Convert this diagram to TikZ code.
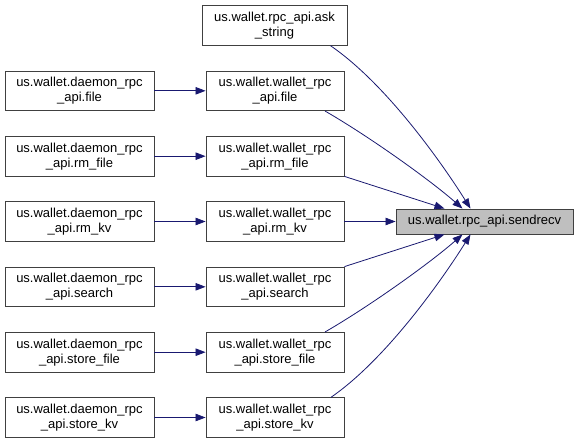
\documentclass[tikz,border=0pt]{standalone}
\usepackage{fontspec}
\setmainfont{Liberation Sans}
\usetikzlibrary{arrows.meta}
\definecolor{edgeblue}{RGB}{25,25,112}
\definecolor{boxline}{RGB}{64,64,64}
\definecolor{boxfill}{RGB}{191,191,191}
\begin{document}
\begin{tikzpicture}[x=1pt,y=-1pt,
  box/.style={draw=boxline,line width=0.9pt,fill=white,inner sep=0pt,minimum height=39.5pt,align=center,font=\fontsize{13}{15}\selectfont},
  lbox/.style={box,minimum width=149pt},
  mbox/.style={box,minimum width=138pt},
  edge/.style={draw=edgeblue,line width=0.8pt,-{Triangle[length=10pt,width=7.5pt]}}]
\useasboundingbox (0,0) rectangle (579,444);
% middle column
\node[box,minimum width=145pt] (ask) at (274.5,25.5) {us.wallet.rpc\_api.ask\\\_string};
\node[mbox] (mfile) at (275,90.8) {us.wallet.wallet\_rpc\\\_api.file};
\node[mbox] (mrmfile) at (275,156.2) {us.wallet.wallet\_rpc\\\_api.rm\_file};
\node[mbox] (mrmkv) at (275,221.5) {us.wallet.wallet\_rpc\\\_api.rm\_kv};
\node[mbox] (msearch) at (275,286.8) {us.wallet.wallet\_rpc\\\_api.search};
\node[mbox] (mstorefile) at (275,352.2) {us.wallet.wallet\_rpc\\\_api.store\_file};
\node[mbox] (mstorekv) at (275,417.5) {us.wallet.wallet\_rpc\\\_api.store\_kv};
% left column
\node[lbox] (dfile) at (79.5,90.8) {us.wallet.daemon\_rpc\\\_api.file};
\node[lbox] (drmfile) at (79.5,156.2) {us.wallet.daemon\_rpc\\\_api.rm\_file};
\node[lbox] (drmkv) at (79.5,221.5) {us.wallet.daemon\_rpc\\\_api.rm\_kv};
\node[lbox] (dsearch) at (79.5,286.8) {us.wallet.daemon\_rpc\\\_api.search};
\node[lbox] (dstorefile) at (79.5,352.2) {us.wallet.daemon\_rpc\\\_api.store\_file};
\node[lbox] (dstorekv) at (79.5,417.5) {us.wallet.daemon\_rpc\\\_api.store\_kv};
% target
\node[box,fill=boxfill,minimum width=177pt,minimum height=25pt] (sr) at (484.5,221.5) {us.wallet.rpc\_api.sendrecv};
% edges left -> middle
\foreach \a/\b in {dfile/mfile,drmfile/mrmfile,drmkv/mrmkv,dsearch/msearch,dstorefile/mstorefile,dstorekv/mstorekv}
  \draw[edge] (\a.east) -- (\b.west);
% edges middle -> target
\draw[edge] ([xshift=56pt]ask.south) .. controls (385,83) and (440,160) .. ([xshift=-14pt]sr.north);
\draw[edge] ([xshift=50pt]mfile.south) .. controls (370,137) and (430,180) .. ([xshift=-22pt]sr.north);
\draw[edge] (mrmfile.south east) -- ([xshift=-40pt]sr.north);
\draw[edge] (mrmkv.east) -- (sr.west);
\draw[edge] (msearch.north east) -- ([xshift=-40pt]sr.south);
\draw[edge] ([xshift=50pt]mstorefile.north) .. controls (370,306) and (430,263) .. ([xshift=-22pt]sr.south);
\draw[edge] ([xshift=56pt]mstorekv.north) .. controls (385,360) and (440,283) .. ([xshift=-14pt]sr.south);
\end{tikzpicture}
\end{document}
